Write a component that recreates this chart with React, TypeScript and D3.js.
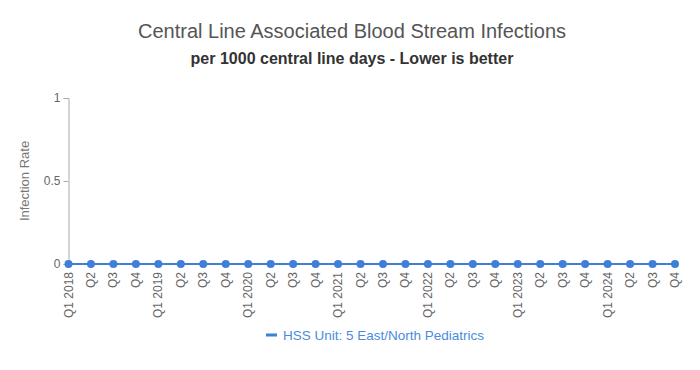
import { useEffect, useRef } from 'react';
import * as d3 from 'd3';

const years = ["2018", "2019", "2020", "2021", "2022", "2023", "2024"];
const quarters = ["Q1", "Q2", "Q3", "Q4"];
const periods = years.flatMap(y => quarters.map(q => `${q} ${y}`));
const infectionRates = [
    0, 0, 0, 0, 0, 0, 0, 0, 0, 0, 0, 0, 0, 0,
    0, 0, 0, 0, 0, 0, 0, 0, 0, 0, 0, 0, 0, 0,
];
const yTicks = [0, 0.5, 1];
const seriesName = "HSS Unit: 5 East/North Pediatrics";

export default function App() {
    const ref = useRef<SVGSVGElement>(null);

    useEffect(() => {
        if (!ref.current) return;
        const svg = d3.select(ref.current);
        svg.selectAll("*").remove();

        const width = 700;
        const height = 370;
        const marginLeft = 68.5;
        const marginRight = 25;
        const marginTop = 98;
        const plotBottom = 264;
        const font = "'Liberation Sans', Arial, sans-serif";

        const x = d3.scalePoint<string>()
            .domain(periods)
            .range([marginLeft, width - marginRight]);

        const y = d3.scaleLinear()
            .domain([0, 1])
            .range([plotBottom, marginTop]);

        svg.attr("width", width).attr("height", height)
            .style("font-family", font);

        // Titles
        svg.append("text")
            .attr("x", 352).attr("y", 38)
            .attr("text-anchor", "middle")
            .style("font-size", "20px")
            .style("fill", "#555")
            .text("Central Line Associated Blood Stream Infections");

        svg.append("text")
            .attr("x", 352).attr("y", 64)
            .attr("text-anchor", "middle")
            .style("font-size", "16px")
            .style("font-weight", "bold")
            .style("fill", "#333")
            .text("per 1000 central line days - Lower is better");

        // Y axis
        const yAxis = svg.append("g")
            .attr("transform", `translate(${marginLeft},0)`)
            .call(d3.axisLeft(y).tickValues(yTicks).tickSize(5).tickPadding(3).tickFormat(d => `${d}`));
        yAxis.select(".domain").attr("stroke", "#aaa");
        yAxis.selectAll("line").attr("stroke", "#aaa");
        yAxis.selectAll("text")
            .style("fill", "#666")
            .style("font-size", "12px")
            .style("font-family", font);

        svg.append("text")
            .attr("transform", "rotate(-90)")
            .attr("x", -181).attr("y", 29)
            .attr("text-anchor", "middle")
            .style("font-size", "13px")
            .style("fill", "#777")
            .text("Infection Rate");

        // X labels
        svg.append("g")
            .selectAll("text")
            .data(periods)
            .join("text")
            .attr("transform", (d, i) => `translate(${(x(d) || 0) + 4},272) rotate(-90)`)
            .attr("text-anchor", "end")
            .style("font-size", "12px")
            .style("fill", "#666")
            .text((d, i) => (i % 4 === 0 ? d : d.split(" ")[0]));

        // Series line
        const line = d3.line<number>()
            .x((d, i) => x(periods[i]) || 0)
            .y(d => y(d));

        svg.append("path")
            .datum(infectionRates)
            .attr("fill", "none")
            .attr("stroke", "#3f7fd6")
            .attr("stroke-width", 2)
            .attr("d", line);

        svg.append("g")
            .selectAll("circle")
            .data(infectionRates)
            .join("circle")
            .attr("cx", (d, i) => x(periods[i]) || 0)
            .attr("cy", d => y(d))
            .attr("r", 4)
            .attr("fill", "#3f7fd6");

        // Legend
        const legend = svg.append("g").attr("transform", "translate(266,335)");
        legend.append("line")
            .attr("x1", 0).attr("x2", 11)
            .attr("stroke", "#3f7fd6")
            .attr("stroke-width", 3);
        legend.append("text")
            .attr("x", 17).attr("y", 5)
            .style("font-size", "13.5px")
            .style("fill", "#4a8be0")
            .text(seriesName);
    }, []);

    return <svg ref={ref} style={{ position: "absolute", left: 0, top: 0 }}></svg>;
}
